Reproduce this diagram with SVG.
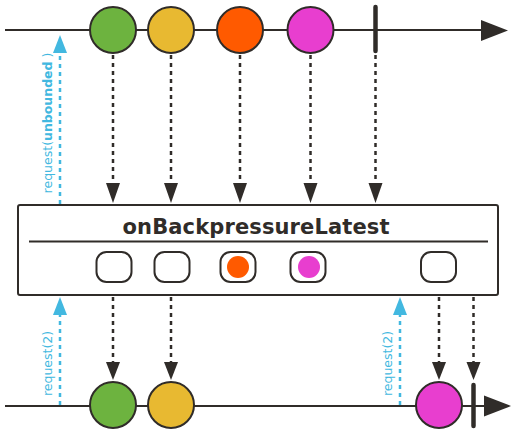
<svg xmlns="http://www.w3.org/2000/svg" width="517" height="435" viewBox="0 0 517 435">
<style>
.line{stroke:#302c29;stroke-width:2;fill:none}
.dash{stroke:#302c29;stroke-width:2.5;stroke-dasharray:4,4;fill:none}
.bdash{stroke:#42b8e0;stroke-width:2.5;stroke-dasharray:4,4;fill:none}
.head{fill:#302c29}
.bhead{fill:#42b8e0}
.marble{stroke:#302c29;stroke-width:2}
.term{stroke:#302c29;stroke-width:4.5;stroke-linecap:round}
.slot{fill:#fff;stroke:#302c29;stroke-width:2}
.req{font-family:"DejaVu Sans",Verdana,sans-serif;font-size:12.5px;fill:#42b8e0}
.title{font-family:"DejaVu Sans",Verdana,sans-serif;font-size:21px;font-weight:bold;fill:#302c29}
</style>
<g id="source-timeline">
<line class="line" x1="5" y1="30" x2="485" y2="30"/>
<polygon class="head" points="481,20 508,30.5 481,41"/>
<line class="term" x1="375.5" y1="7" x2="375.5" y2="51"/>
</g>
<g id="src-green"><circle class="marble" cx="113" cy="30" r="23" fill="#6db33f"/></g>
<g id="src-yellow"><circle class="marble" cx="171" cy="30" r="23" fill="#e8b931"/></g>
<g id="src-orange"><circle class="marble" cx="240" cy="30" r="23" fill="#ff5a00"/></g>
<g id="src-magenta"><circle class="marble" cx="310.5" cy="30" r="23" fill="#e83ecf"/></g>
<g id="operator">
<rect x="18" y="205" width="480" height="90" rx="2" fill="#fff" stroke="#302c29" stroke-width="2"/>
<text class="title" x="256" y="233.5" text-anchor="middle" textLength="267" lengthAdjust="spacing">onBackpressureLatest</text>
<line class="line" x1="29" y1="241.5" x2="488" y2="241.5"/>
<rect class="slot" x="96.5" y="252" width="35" height="30" rx="10"/>
<rect class="slot" x="154.5" y="252" width="35" height="30" rx="10"/>
<rect class="slot" x="220.5" y="252" width="35" height="30" rx="10"/>
<circle cx="238" cy="267" r="11" fill="#ff5a00"/>
<rect class="slot" x="290.5" y="252" width="35" height="30" rx="10"/>
<circle cx="309" cy="267" r="11" fill="#e83ecf"/>
<rect class="slot" x="421" y="252" width="35" height="30" rx="10"/>
</g>
<g id="result-timeline">
<line class="line" x1="5" y1="406" x2="488" y2="406"/>
<polygon class="head" points="484,395.5 511,406 484,416.5"/>
</g>
<g id="res-green"><circle class="marble" cx="113" cy="405" r="23" fill="#6db33f"/></g>
<g id="res-yellow"><circle class="marble" cx="171" cy="405" r="23" fill="#e8b931"/></g>
<g id="res-magenta"><circle class="marble" cx="439" cy="405" r="23" fill="#e83ecf"/></g>
<g id="res-term"><line class="term" x1="473.5" y1="385" x2="473.5" y2="426"/></g>
<g id="connectors">
<line class="dash" x1="113" y1="55" x2="113" y2="184"/>
<polygon class="head" points="106,183 120,183 113,203"/>
<line class="dash" x1="171" y1="55" x2="171" y2="184"/>
<polygon class="head" points="164,183 178,183 171,203"/>
<line class="dash" x1="240" y1="55" x2="240" y2="184"/>
<polygon class="head" points="233,183 247,183 240,203"/>
<line class="dash" x1="310.5" y1="55" x2="310.5" y2="184"/>
<polygon class="head" points="303.5,183 317.5,183 310.5,203"/>
<line class="dash" x1="375.5" y1="55" x2="375.5" y2="184"/>
<polygon class="head" points="368.5,183 382.5,183 375.5,203"/>
<line class="dash" x1="113" y1="297" x2="113" y2="363"/>
<polygon class="head" points="106,362 120,362 113,380"/>
<line class="dash" x1="171" y1="297" x2="171" y2="363"/>
<polygon class="head" points="164,362 178,362 171,380"/>
<line class="dash" x1="439" y1="297" x2="439" y2="363"/>
<polygon class="head" points="432,362 446,362 439,380"/>
<line class="dash" x1="473.5" y1="297" x2="473.5" y2="363"/>
<polygon class="head" points="466.5,362 480.5,362 473.5,380"/>
<line class="bdash" x1="60" y1="204" x2="60" y2="52"/>
<polygon class="bhead" points="53,53 67,53 60,35"/>
<line class="bdash" x1="60" y1="405" x2="60" y2="314"/>
<polygon class="bhead" points="53,315 67,315 60,297"/>
<line class="bdash" x1="400" y1="405" x2="400" y2="314"/>
<polygon class="bhead" points="393,315 407,315 400,297"/>
</g>
<g id="labels">
<text class="req" transform="translate(52,123) rotate(-90)" text-anchor="middle">request(<tspan font-weight="bold">unbounded</tspan> )</text>
<text class="req" transform="translate(52,363.5) rotate(-90)" text-anchor="middle">request(2)</text>
<text class="req" transform="translate(392,363.5) rotate(-90)" text-anchor="middle">request(2)</text>
</g>
</svg>
